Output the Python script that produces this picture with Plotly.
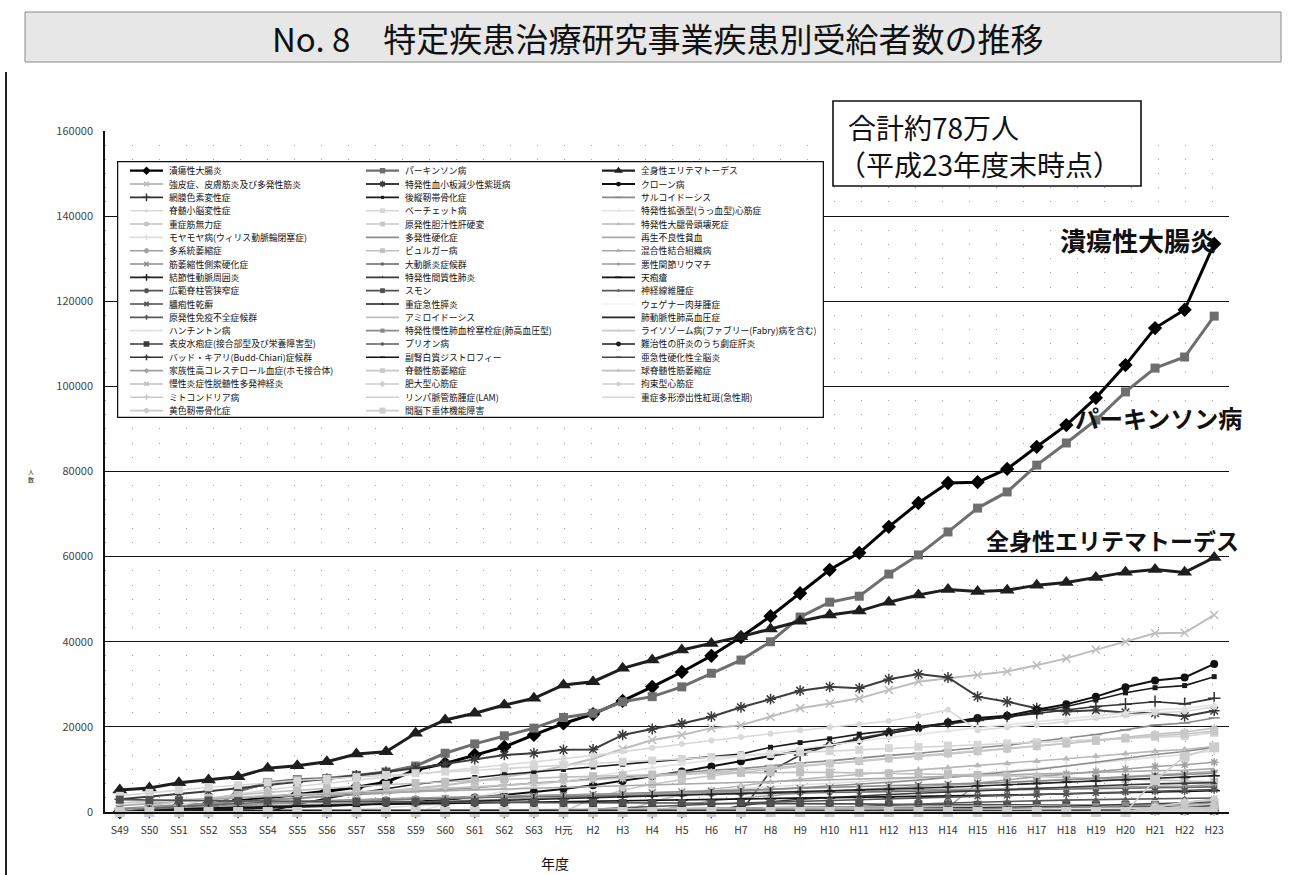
import plotly.graph_objects as go

# ---------------- data ----------------
years = ["S49", "S50", "S51", "S52", "S53", "S54", "S55", "S56", "S57", "S58",
         "S59", "S60", "S61", "S62", "S63", "H元", "H2", "H3", "H4", "H5",
         "H6", "H7", "H8", "H9", "H10", "H11", "H12", "H13", "H14", "H15",
         "H16", "H17", "H18", "H19", "H20", "H21", "H22", "H23"]

uc = [0] * 1 + [900, 1400, 1900, 2600, 3300, 4100, 4900, 5800, 7000, 9900,
                11400, 13400, 15300, 18100, 20800, 23000, 26100, 29400, 32900, 36700,
                41100, 46000, 51400, 56900, 60900, 67000, 72600, 77300, 77500, 80600,
                85800, 90900, 97300, 105000, 113700, 118000, 133500]
parkinson = [0] * 4 + [4900, 6900, 7600, 7900, 8600, 9400, 10800, 13800, 16000, 17900,
                       19700, 22200, 23200, 25900, 27100, 29400, 32600, 35700, 40000, 45800,
                       49300, 50700, 55900, 60400, 65800, 71400, 75200, 81500, 86700, 92100,
                       98700, 104300, 106900, 116500]
sle = [5170, 5640, 6890, 7520, 8300, 10260, 10880, 11820, 13630, 14170,
       18490, 21620, 23190, 25140, 26710, 29840, 30610, 33760, 35710, 38060,
       39600, 41200, 43000, 44800, 46300, 47200, 49300, 51000, 52300, 51800,
       52100, 53300, 53900, 55100, 56300, 57000, 56300, 59800]
scleroderma = [700, 1100, 1500, 1900, 2400, 2800, 3300, 3700, 4200, 4800,
               5500, 6300, 7200, 8200, 9300, 10800, 12500, 14800, 16900, 18100,
               19700, 20400, 22400, 24400, 25500, 26700, 28700, 30600, 31400, 32200,
               33000, 34500, 36100, 38100, 40000, 42000, 42100, 46300]
itp = [3000, 3600, 4200, 4900, 5600, 6300, 7000, 7800, 8600, 9400,
       10300, 11300, 12400, 13400, 13800, 14600, 14700, 18100, 19500, 20800,
       22400, 24600, 26500, 28500, 29400, 29100, 31200, 32400, 31600, 27100,
       25900, 24400, 23600, 23900, 23400, 23200, 22500, 23800]
crohn = [0] * 2 + [300, 500, 700, 900, 1100, 1400, 1700, 2000, 2400, 2900,
                   3400, 4000, 4700, 5400, 6300, 7300, 8400, 9500, 10700, 11900,
                   13100, 14300, 15600, 17000, 18500, 19700, 21000, 22100, 22600, 24000,
                   25300, 27100, 29300, 30900, 31600, 34800]
retinitis = [0] * 22 + [9600, 13400, 15700, 17300, 18600, 19800, 20700, 21500, 22300, 23100,
                        23900, 24800, 25300, 25900, 25400, 26700]
opll = [0] * 6 + [1800, 3200, 4400, 5500, 6500, 7300, 8100, 8800, 9400, 10000,
                  10600, 11200, 11900, 12500, 13100, 13600, 15200, 16300, 17200, 18300,
                  19100, 20100, 20900, 21700, 22300, 23500, 24800, 26300, 28000, 29200,
                  29700, 31800]
sarcoidosis = [800, 1300, 1700, 2000, 2500, 2900, 3200, 3700, 4100, 4400,
               4900, 5300, 5700, 6300, 6800, 7200, 7800, 8300, 8700, 9300,
               9800, 10200, 10900, 11500, 12000, 12700, 13300, 13800, 14500, 15100,
               15700, 16600, 17400, 18200, 19300, 20400, 20900, 22100]
scd = [0] * 2 + [1500, 3000, 4200, 5200, 6000, 6800, 7500, 8200, 8900, 9600,
                 10300, 11000, 11700, 12500, 13300, 14200, 15100, 16000, 16800, 17600,
                 18400, 19200, 19900, 20600, 21400, 22600, 24000, 19200, 19900, 20500,
                 21200, 22000, 22700, 23300, 23600, 24700]
behcet = [3800, 4500, 5200, 5800, 6300, 6900, 7400, 7800, 8200, 8700,
          9100, 9500, 9900, 10300, 10700, 11000, 11400, 11800, 12100, 12500,
          12900, 13200, 13600, 14000, 14300, 14600, 15000, 15300, 15600, 15800,
          16100, 16400, 16700, 17000, 17300, 17600, 17800, 18600]
dcm = [0] * 11 + [1800, 3500, 4900, 6200, 7300, 8400, 9400, 10400, 11300, 12200,
                  13100, 14000, 14900, 15800, 16600, 17500, 18300, 19100, 19800, 20500,
                  21200, 21900, 22600, 23300, 24000, 24300, 25200]
myasthenia = [2100, 2500, 2900, 3200, 3500, 3800, 4100, 4300, 4600, 4900,
              5200, 5500, 5900, 6300, 6700, 7100, 7500, 7900, 8300, 8800,
              9300, 9800, 10300, 10900, 11400, 11900, 12500, 13000, 13600, 14200,
              14800, 15400, 16100, 16800, 17500, 18300, 18800, 19700]
pbc = [0] * 16 + [3200, 5100, 6500, 7600, 8500, 9300, 10000, 10700, 11400, 12000,
                  12600, 13200, 13800, 14300, 14900, 15500, 16100, 16700, 17300, 17900,
                  18300, 19000]
onfh = [0] * 18 + [2400, 4100, 5300, 6200, 7000, 7700, 8300, 8900, 9400, 9900,
                   10400, 10900, 11400, 11900, 12500, 13100, 13700, 14300, 14700, 15400]
moyamoya = [0] * 8 + [600, 1100, 1500, 1900, 2300, 2700, 3000, 3400, 3700, 4100,
                      4400, 4800, 5100, 5500, 5900, 6300, 6700, 7100, 7500, 8000,
                      8500, 9000, 9600, 10200, 10800, 11500, 12200, 12900, 13500, 14400]
ms = [500, 700, 900, 1100, 1300, 1500, 1600, 1800, 2000, 2100,
      2300, 2500, 2700, 2900, 3100, 3300, 3500, 3700, 4000, 4300,
      4600, 4900, 5300, 5700, 6100, 6500, 7000, 7500, 8100, 8700,
      9300, 10000, 10800, 11700, 12600, 13500, 14200, 15200]
aplastic = [1500, 2000, 2500, 2900, 3300, 3600, 3900, 4200, 4400, 4600,
            4800, 5000, 5200, 5400, 5600, 5800, 6000, 6200, 6400, 6600,
            6800, 7000, 7200, 7400, 7600, 7800, 8000, 8100, 8300, 8500,
            8700, 8900, 9100, 9300, 9500, 9700, 9800, 10200]
msa = [0] * 12 + [100, 200, 300, 400, 450, 500, 550, 600, 650, 700,
                  750, 800, 850, 900, 950, 1000, 1050, 6800, 7600, 8300,
                  8900, 9500, 10100, 10700, 11100, 11700]
buerger = [0] * 1 + [1500, 2500, 3300, 4000, 4600, 5100, 5600, 6000, 6400, 6800,
                     7100, 7400, 7700, 8000, 8200, 8400, 8600, 8800, 9000, 9100,
                     9200, 9300, 9300, 9300, 9200, 9100, 9000, 8900, 8700, 8500,
                     8300, 8100, 7900, 7700, 7500, 7300, 7100]
mctd = [0] * 19 + [1500, 2600, 3300, 3900, 4400, 4900, 5300, 5700, 6000, 6300,
                   6600, 6900, 7200, 7600, 7900, 8300, 8700, 9000, 9500]
als = [700, 1000, 1300, 1500, 1700, 1900, 2100, 2300, 2500, 2700,
       2900, 3100, 3300, 3500, 3700, 3900, 4100, 4300, 4500, 4700,
       4900, 5100, 5300, 5500, 5700, 5900, 6100, 6300, 6500, 6800,
       7000, 7300, 7600, 7900, 8200, 8500, 8800, 9100]
takayasu = [0] * 1 + [800, 1300, 1700, 2000, 2300, 2500, 2700, 2900, 3000, 3200,
                      3300, 3400, 3500, 3600, 3700, 3800, 3900, 4000, 4100, 4200,
                      4300, 4400, 4500, 4600, 4700, 4800, 4900, 5000, 5100, 5200,
                      5300, 5400, 5500, 5600, 5700, 5800, 5900]
mra = [0] * 3 + [800, 1400, 1900, 2300, 2600, 2900, 3100, 3300, 3500, 3700,
                 3800, 3900, 4000, 4100, 4200, 4300, 4400, 4500, 4600, 4700,
                 4800, 4900, 5000, 5100, 5200, 5300, 5400, 5500, 5600, 5700,
                 5800, 5900, 6000, 6100, 6400]
pan = [0] * 1 + [300, 500, 700, 900, 1100, 1300, 1500, 1700, 1900, 2100,
                 2300, 2500, 2700, 2900, 3100, 3300, 3500, 3700, 3900, 4100,
                 4300, 4500, 4700, 4900, 5100, 5300, 5500, 5800, 6100, 6400,
                 6700, 7000, 7300, 7600, 7900, 8100, 8500]
iip = [0] * 21 + [1500, 2400, 3000, 3400, 3800, 4100, 4400, 4700, 4900, 5200,
                  5500, 5800, 6100, 6400, 6600, 6700, 6900]
pemphigus = [0] * 1 + [400, 700, 900, 1100, 1300, 1500, 1600, 1700, 1800, 1900,
                       2000, 2100, 2200, 2300, 2400, 2500, 2600, 2700, 2800, 2900,
                       3000, 3100, 3200, 3300, 3400, 3500, 3600, 3700, 3800, 3900,
                       4100, 4300, 4400, 4600, 4700, 4800, 5000]
lcs = [0] * 15 + [300, 700, 1000, 1300, 1600, 1900, 2100, 2300, 2500, 2700,
                  2900, 3100, 3300, 3500, 3700, 3900, 4100, 4300, 4500, 4700,
                  4900, 5000, 5300]
smon = [2900, 2800, 2700, 2700, 2600, 2600, 2500, 2500, 2400, 2400,
        2400, 2300, 2300, 2300, 2200, 2200, 2200, 2100, 2100, 2100,
        2000, 2000, 2000, 1900, 1900, 1900, 1800, 1800, 1800, 1700,
        1700, 1700, 1600, 1600, 1600, 1500, 1500, 1500]
nf = [0] * 24 + [800, 1300, 1600, 1900, 2100, 2300, 2500, 2600, 2800, 2900,
                 3000, 3100, 3200, 3300]
psoriasis = [0] * 14 + [200, 400, 500, 600, 700, 800, 900, 1000, 1050, 1100,
                        1150, 1200, 1250, 1300, 1350, 1400, 1450, 1500, 1550, 1600,
                        1650, 1700, 1750, 1850]
pancreatitis = [0] * 17 + [400, 600, 700, 800, 850, 900, 950, 1000, 1050, 1100,
                           1150, 1200, 1250, 1300, 1350, 1400, 1400, 1450, 1450, 1500,
                           1500]
wegener = [0] * 10 + [100, 200, 250, 300, 350, 400, 450, 500, 550, 600,
                      650, 700, 750, 800, 850, 900, 950, 1000, 1050, 1100,
                      1200, 1300, 1400, 1500, 1600, 1700, 1800, 1900]
pid = [0] * 20 + [600, 800, 900, 950, 1000, 1000, 1050, 1100, 1100, 1150,
                  1150, 1200, 1200, 1250, 1250, 1300, 1300, 1300]
amyloidosis = [0] * 5 + [100, 150, 200, 250, 300, 350, 400, 450, 500, 550,
                         600, 650, 700, 750, 800, 850, 900, 950, 1000, 1050,
                         1100, 1150, 1200, 1250, 1300, 1350, 1400, 1450, 1500, 1550,
                         1600, 1700, 1800]
pah = [0] * 24 + [300, 500, 600, 700, 800, 900, 1000, 1100, 1300, 1500,
                  1700, 1900, 2100, 2300]
huntington = [0] * 7 + [100, 150, 200, 250, 300, 350, 400, 420, 440, 460,
                        480, 500, 520, 540, 560, 580, 600, 620, 640, 660,
                        680, 700, 720, 740, 760, 780, 800, 810, 820, 830,
                        850]
cteph = [0] * 24 + [200, 350, 450, 550, 650, 750, 850, 950, 1100, 1300,
                    1500, 1700, 1900, 2100]
lysosomal = [0] * 25 + [50, 80, 100, 120, 150, 200, 250, 350, 450, 550,
                        650, 800, 900]
eb = [0] * 13 + [50, 80, 100, 120, 140, 160, 180, 200, 210, 220,
                 230, 240, 250, 260, 270, 280, 290, 300, 300, 310,
                 310, 320, 320, 330, 330]
prion = [0] * 23 + [100, 150, 200, 250, 300, 330, 360, 380, 400, 420,
                    440, 460, 480, 490, 500]
fulminant = [0] * 2 + [200, 300, 350, 400, 400, 410, 420, 430, 410, 400,
                       390, 400, 410, 420, 400, 390, 380, 390, 400, 390,
                       380, 360, 340, 330, 310, 300, 290, 280, 270, 260,
                       250, 250, 240, 240, 230, 230]
budd_chiari = [0] * 24 + [60, 90, 110, 130, 150, 170, 180, 190, 200, 210,
                          230, 240, 250, 270]
ald = [0] * 26 + [30, 60, 80, 100, 110, 120, 130, 140, 150, 160,
                  170, 190]
sspe = [0] * 24 + [60, 70, 75, 80, 80, 85, 85, 85, 90, 90,
                   90, 90, 90, 90]
fh = [0] * 35 + [60, 120, 150]
sma = [0] * 35 + [300, 550, 700]
sbma = [0] * 35 + [400, 700, 900]
cidp = [0] * 35 + [1200, 2300, 3000]
hcm = [0] * 35 + [1100, 2200, 2900]
rcm = [0] * 35 + [10, 20, 30]
mito = [0] * 35 + [400, 800, 1100]
lam = [0] * 35 + [200, 380, 500]
sjs = [0] * 35 + [30, 50, 70]
olf = [0] * 35 + [700, 1400, 1900]
hypopit = [0] * 35 + [7500, 13000, 15200]

names = [
    "潰瘍性大腸炎", "パーキンソン病", "全身性エリテマトーデス",
    "強皮症、皮膚筋炎及び多発性筋炎", "特発性血小板減少性紫斑病", "クローン病",
    "網膜色素変性症", "後縦靭帯骨化症", "サルコイドーシス",
    "脊髄小脳変性症", "ベーチェット病", "特発性拡張型(うっ血型)心筋症",
    "重症筋無力症", "原発性胆汁性肝硬変", "特発性大腿骨頭壊死症",
    "モヤモヤ病(ウィリス動脈輪閉塞症)", "多発性硬化症", "再生不良性貧血",
    "多系統萎縮症", "ビュルガー病", "混合性結合組織病",
    "筋萎縮性側索硬化症", "大動脈炎症候群", "悪性関節リウマチ",
    "結節性動脈周囲炎", "特発性間質性肺炎", "天疱瘡",
    "広範脊柱管狭窄症", "スモン", "神経線維腫症",
    "膿疱性乾癬", "重症急性膵炎", "ウェゲナー肉芽腫症",
    "原発性免疫不全症候群", "アミロイドーシス", "肺動脈性肺高血圧症",
    "ハンチントン病", "特発性慢性肺血栓塞栓症(肺高血圧型)", "ライソゾーム病(ファブリー(Fabry)病を含む)",
    "表皮水疱症(接合部型及び栄養障害型)", "プリオン病", "難治性の肝炎のうち劇症肝炎",
    "バッド・キアリ(Budd-Chiari)症候群", "副腎白質ジストロフィー", "亜急性硬化性全脳炎",
    "家族性高コレステロール血症(ホモ接合体)", "脊髄性筋萎縮症", "球脊髄性筋萎縮症",
    "慢性炎症性脱髄性多発神経炎", "肥大型心筋症", "拘束型心筋症",
    "ミトコンドリア病", "リンパ脈管筋腫症(LAM)", "重症多形滲出性紅斑(急性期)",
    "黄色靭帯骨化症", "間脳下垂体機能障害",
]
values = [
    uc, parkinson, sle, scleroderma, itp, crohn, retinitis, opll, sarcoidosis,
    scd, behcet, dcm, myasthenia, pbc, onfh, moyamoya, ms, aplastic,
    msa, buerger, mctd, als, takayasu, mra, pan, iip, pemphigus,
    lcs, smon, nf, psoriasis, pancreatitis, wegener, pid, amyloidosis, pah,
    huntington, cteph, lysosomal, eb, prion, fulminant, budd_chiari, ald, sspe,
    fh, sma, sbma, cidp, hcm, rcm, mito, lam, sjs, olf, hypopit,
]

# ---------------- styles (color, symbol, marker size, line width) ----------------
styles = [
    ("#000000", "diamond", 11, 3.0), ("#6e6e6e", "square", 9, 3.0), ("#1e1e1e", "triangle-up", 13, 3.0),
    ("#bdbdbd", "x-thin", 8, 2.0), ("#3c3c3c", "asterisk", 9, 2.0), ("#111111", "circle", 8, 2.0),
    ("#333333", "cross-thin", 9, 1.6), ("#1a1a1a", "square", 5, 1.6), ("#8a8a8a", "line-ew", 8, 1.6),
    ("#d9d9d9", "circle", 6, 1.6), ("#d6d6d6", "square", 8, 1.6), ("#e3e3e3", "triangle-up", 7, 1.6),
    ("#c2c2c2", "asterisk", 7, 1.6), ("#c8c8c8", "square", 8, 1.6), ("#b8b8b8", "triangle-up", 7, 1.6),
    ("#dedede", "cross-thin", 7, 1.6), ("#8c8c8c", None, 0, 1.6), ("#a8a8a8", None, 0, 1.6),
    ("#a0a0a0", "asterisk", 7, 1.6), ("#c0c0c0", "square", 8, 1.6), ("#a6a6a6", "triangle-up", 7, 1.6),
    ("#8a8a8a", "x-thin", 7, 1.6), ("#666666", "circle", 6, 1.6), ("#9a9a9a", "circle", 5, 1.6),
    ("#222222", "cross-thin", 8, 1.6), ("#3a3a3a", "triangle-up", 5, 1.6), ("#111111", "line-ew", 8, 1.6),
    ("#555555", "asterisk", 7, 1.6), ("#505050", "square", 8, 1.6), ("#5a5a5a", "triangle-up", 6, 1.6),
    ("#4a4a4a", "x-thin", 7, 1.6), ("#1a1a1a", "triangle-up", 5, 1.6), ("#f2f2f2", None, 0, 1.6),
    ("#5a5a5a", "cross-thin", 6, 1.6), ("#bfbfbf", None, 0, 1.6), ("#222222", None, 0, 1.8),
    ("#e0e0e0", "triangle-up", 5, 1.6), ("#8a8a8a", "square", 7, 1.6), ("#c8c8c8", "triangle-up", 5, 1.6),
    ("#3a3a3a", "square-x-open", 7, 1.6), ("#5a5a5a", "circle", 6, 1.6), ("#1a1a1a", "circle", 8, 1.6),
    ("#333333", "cross-thin", 7, 1.6), ("#111111", "line-ew", 6, 1.6), ("#444444", "line-ew", 6, 1.6),
    ("#a0a0a0", "diamond", 7, 1.6), ("#c8c8c8", "square", 8, 1.6), ("#c0c0c0", "triangle-up", 7, 1.6),
    ("#c0c0c0", "x-thin", 7, 1.6), ("#cccccc", "diamond", 8, 1.6), ("#cfcfcf", "diamond", 7, 1.6),
    ("#c8c8c8", "cross-thin", 7, 1.6), ("#d0d0d0", None, 0, 1.6), ("#d6d6d6", None, 0, 1.6),
    ("#c8c8c8", "asterisk", 7, 1.6), ("#cdcdcd", "square", 10, 1.6),
]
LINE_SYMBOLS = {"x-thin", "cross-thin", "asterisk", "line-ew", "square-x-open"}

FONT = "Noto Sans CJK JP, Noto Sans, sans-serif"
W, H = 1291, 875
ML, MR, MT, MB = 105, 62, 131, 63
PW, PH = W - ML - MR, H - MT - MB


def px_x(p):
    return (p - ML) / PW


def px_y(p):
    return (H - MB - p) / PH


def marker_of(color, sym, size, scale=1.0):
    m = dict(color=color, size=size * scale, symbol=sym)
    if sym in LINE_SYMBOLS:
        m["line"] = dict(color=color, width=1.5)
    else:
        m["line"] = dict(width=0)
    return m


fig = go.Figure()

# main series
for name, vals, (color, sym, size, width) in zip(names, values, styles):
    if sym is None:
        fig.add_trace(go.Scatter(x=years, y=vals, mode="lines", name=name,
                                 line=dict(color=color, width=width),
                                 showlegend=False, hoverinfo="skip", cliponaxis=False))
    else:
        fig.add_trace(go.Scatter(x=years, y=vals, mode="lines+markers", name=name,
                                 line=dict(color=color, width=width),
                                 marker=marker_of(color, sym, size),
                                 showlegend=False, hoverinfo="skip", cliponaxis=False))

# legend (3 columns, row-major) drawn on a helper subplot in page-pixel units
LEG_L, LEG_T, LEG_R, LEG_B = 117, 161, 824, 418
COL_X = [130, 366, 602]
ROW_Y0, ROW_DY = 170.7, 13.33
annotations = []
for i, (name, (color, sym, size, width)) in enumerate(zip(names, styles)):
    c, r = i % 3, i // 3
    x0 = COL_X[c]
    y = ROW_Y0 + r * ROW_DY
    fig.add_trace(go.Scatter(x=[x0, x0 + 33], y=[y, y], mode="lines", xaxis="x2", yaxis="y2",
                             line=dict(color=color, width=min(width, 2.2)),
                             showlegend=False, hoverinfo="skip"))
    if sym is not None:
        fig.add_trace(go.Scatter(x=[x0 + 16.5], y=[y], mode="markers", xaxis="x2", yaxis="y2",
                                 marker=marker_of(color, sym, size, 0.6),
                                 showlegend=False, hoverinfo="skip"))
    annotations.append(dict(text=name, x=x0 + 37, y=y, xref="x2", yref="y2",
                            xanchor="left", yanchor="middle", showarrow=False,
                            font=dict(family=FONT, size=8.8, color="#111111")))

# titles and labels
annotations += [
    dict(text="No. 8　特定疾患治療研究事業疾患別受給者数の推移", x=px_x(657), y=px_y(38),
         xref="paper", yref="paper", showarrow=False, xanchor="center", yanchor="middle",
         font=dict(family=FONT, size=33, color="#111111")),
    dict(text="合計約78万人", x=px_x(846), y=px_y(127),
         xref="paper", yref="paper", showarrow=False, xanchor="left", yanchor="middle",
         font=dict(family=FONT, size=28, color="#111111")),
    dict(text="（平成23年度末時点）", x=px_x(836), y=px_y(164),
         xref="paper", yref="paper", showarrow=False, xanchor="left", yanchor="middle",
         font=dict(family=FONT, size=28, color="#111111")),
    dict(text="<b>潰瘍性大腸炎</b>", x=px_x(1058), y=px_y(239), xref="paper", yref="paper",
         showarrow=False, xanchor="left", yanchor="middle",
         font=dict(family=FONT, size=26, color="#111111")),
    dict(text="<b>パーキンソン病</b>", x=px_x(1244), y=px_y(418), xref="paper", yref="paper",
         showarrow=False, xanchor="right", yanchor="middle",
         font=dict(family=FONT, size=24, color="#111111")),
    dict(text="<b>全身性エリテマトーデス</b>", x=px_x(984), y=px_y(540), xref="paper", yref="paper",
         showarrow=False, xanchor="left", yanchor="middle",
         font=dict(family=FONT, size=23, color="#111111")),
    dict(text="年度", x=px_x(555), y=px_y(863), xref="paper", yref="paper",
         showarrow=False, xanchor="center", yanchor="middle",
         font=dict(family=FONT, size=14, color="#111111")),
    dict(text="人<br>数", x=px_x(31), y=px_y(476), xref="paper", yref="paper",
         showarrow=False, xanchor="center", yanchor="middle",
         font=dict(family=FONT, size=6, color="#222222")),
]

shapes = [
    # legend box (on helper subplot, so it sits above the main grid)
    dict(type="rect", xref="x2", yref="y2", x0=LEG_L, x1=LEG_R, y0=LEG_T, y1=LEG_B,
         fillcolor="white", line=dict(color="#111111", width=2.5), layer="below"),
    # total box
    dict(type="rect", xref="paper", yref="paper", x0=px_x(833), x1=px_x(1141),
         y0=px_y(186), y1=px_y(101), fillcolor="white",
         line=dict(color="#111111", width=1.6), layer="above"),
    # title box
    dict(type="rect", xref="paper", yref="paper", x0=px_x(25), x1=px_x(1281),
         y0=px_y(62), y1=px_y(12), fillcolor="#e7e7e7",
         line=dict(color="#8a8a8a", width=1), layer="above"),
    # left frame line
    dict(type="line", xref="paper", yref="paper", x0=px_x(6), x1=px_x(6),
         y0=px_y(875), y1=px_y(72), line=dict(color="#222222", width=2)),
]

fig.update_layout(
    width=W, height=H,
    margin=dict(l=ML, r=MR, t=MT, b=MB, pad=0),
    paper_bgcolor="white", plot_bgcolor="white",
    hovermode=False,
    font=dict(family=FONT, color="#222222"),
    annotations=annotations,
    shapes=shapes,
    xaxis=dict(type="category", categoryorder="array", categoryarray=years,
               range=[-0.5, len(years) - 0.5], showgrid=False, zeroline=False,
               showline=True, linecolor="#111111", linewidth=1.6, ticks="",
               tickfont=dict(family=FONT, size=10.5, color="#333333"),
               ticklabelstandoff=8, fixedrange=True),
    yaxis=dict(range=[0, 160000], dtick=20000, tickformat="d",
               showgrid=True, gridcolor="#111111", gridwidth=1.3,
               zeroline=False, showline=True, linecolor="#111111", linewidth=1.6,
               ticks="", tickfont=dict(family=FONT, size=11, color="#444444"),
               ticklabelstandoff=8, fixedrange=True,
               minor=dict(dtick=20000 / 6, showgrid=True, gridcolor="#a0a0a0",
                          gridwidth=1.2, griddash="1px,26px")),
    xaxis2=dict(domain=[px_x(LEG_L), px_x(LEG_R)], range=[LEG_L, LEG_R], anchor="y2",
                visible=False, fixedrange=True),
    yaxis2=dict(domain=[px_y(LEG_B), px_y(LEG_T)], range=[LEG_B, LEG_T], anchor="x2",
                visible=False, fixedrange=True),
)

fig.write_html("out.html", config={"displayModeBar": False},
               post_script="document.body.style.margin='0';")
